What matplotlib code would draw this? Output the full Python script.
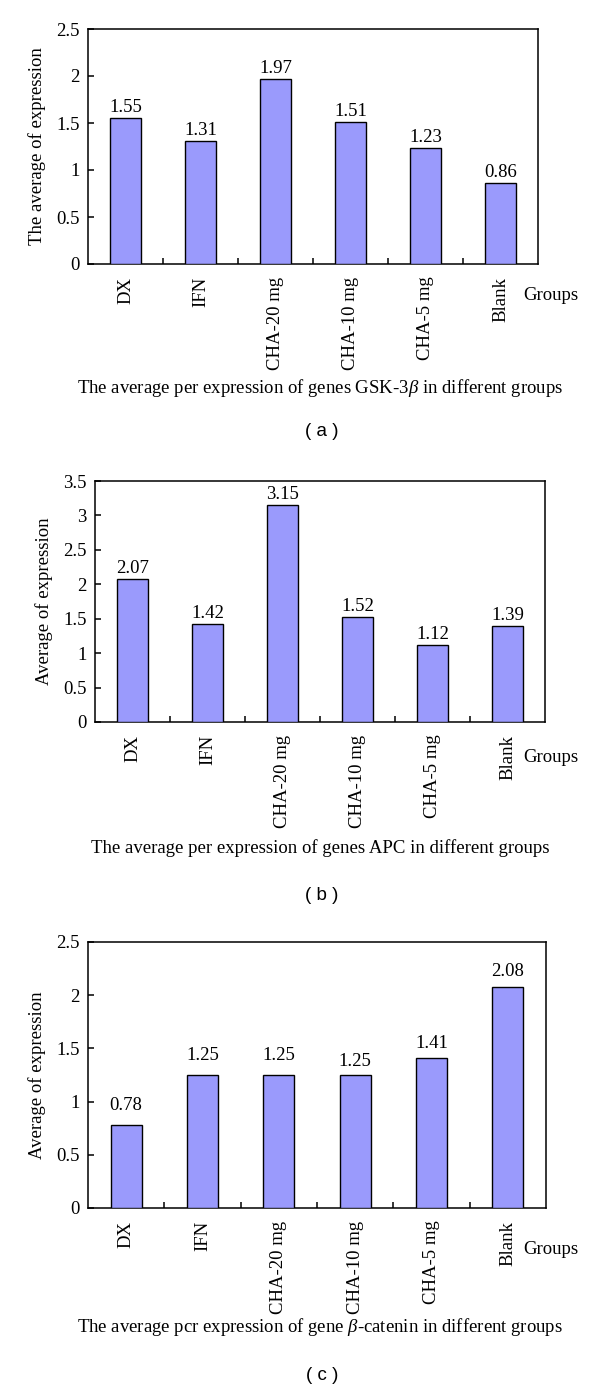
import matplotlib
matplotlib.use("Agg")
import matplotlib.pyplot as plt
import numpy as np

plt.rcParams['font.family'] = ['Liberation Serif', 'DejaVu Serif']
plt.rcParams['mathtext.fontset'] = 'custom'
plt.rcParams['mathtext.rm'] = 'Liberation Serif'
plt.rcParams['mathtext.it'] = 'Liberation Serif:italic'

categories = ["DX", "IFN", "CHA-20 mg", "CHA-10 mg", "CHA-5 mg", "Blank"]
values_a = [1.55, 1.31, 1.97, 1.51, 1.23, 0.86]
values_b = [2.07, 1.42, 3.15, 1.52, 1.12, 1.39]
values_c = [0.78, 1.25, 1.25, 1.25, 1.41, 2.08]
yticks_a = [0, 0.5, 1, 1.5, 2, 2.5]
yticks_b = [0, 0.5, 1, 1.5, 2, 2.5, 3, 3.5]
yticks_c = [0, 0.5, 1, 1.5, 2, 2.5]
ylabel_a = "The average of expression"
ylabel_b = "Average of expression"
ylabel_c = "Average of expression"
title_a = r"The average per expression of genes GSK-3$\it{\beta}$ in different groups"
title_b = "The average per expression of genes APC in different groups"
title_c = r"The average pcr expression of gene $\it{\beta}$-catenin in different groups"
tags = ["( a )", "( b )", "( c )"]

W, H = 600, 1392
fig = plt.figure(figsize=(W / 100, H / 100), dpi=100)

BAR = '#9a9afc'
FS = 13.5

def px_axes(left, right, top, bottom):
    return fig.add_axes([left / W, 1 - bottom / H, (right - left) / W, (bottom - top) / H])

def panel(box, values, yticks, ylabel, title, tag, title_y, tag_y, groups_y, label_pad_px):
    ax = px_axes(*box)
    x = np.arange(len(categories))
    ax.bar(x, values, width=0.41, color=BAR, edgecolor='black', linewidth=1.0, zorder=3)
    ax.set_xlim(-0.5, len(categories) - 0.5)
    ax.set_ylim(yticks[0], yticks[-1])
    ax.set_yticks(yticks)
    ax.set_yticklabels([f"{t:g}" for t in yticks], fontsize=FS)
    ax.set_xticks(x)
    ax.set_xticklabels(categories, rotation=90, fontsize=FS, va='top')
    ax.tick_params(axis='x', length=0, pad=9)
    ax.set_xticks(np.arange(0.5, len(categories) - 0.5, 1.0), minor=True)
    ax.tick_params(axis='x', which='minor', direction='in', length=4, width=1.1)
    ax.tick_params(axis='y', direction='in', length=4, width=1.1, pad=6)
    for s in ax.spines.values():
        s.set_linewidth(1.1)
    ax.set_ylabel(ylabel, fontsize=FS, labelpad=7)
    for i, v in enumerate(values):
        ax.annotate(f"{v:.2f}", (x[i], v), xytext=(0, label_pad_px[i] * 0.72),
                    textcoords='offset points', ha='center', va='bottom', fontsize=FS)
    fig.text(551 / W, 1 - groups_y / H, "Groups", ha='center', va='center', fontsize=FS)
    fig.text(320 / W, 1 - title_y / H, title, ha='center', va='center', fontsize=FS)
    fig.text(322 / W, 1 - tag_y / H, tag, ha='center', va='center', fontsize=FS,
             family=['Liberation Sans', 'DejaVu Sans'])
    return ax

panel((88, 538, 29, 264), values_a, yticks_a, ylabel_a, title_a, tags[0],
      388, 432, 296, [2, 2, 2, 2, 2, 2])
panel((95, 545, 481, 722), values_b, yticks_b, ylabel_b, title_b, tags[1],
      848, 895, 758, [2, 2, 2, 2, 2, 2])
panel((88, 546, 942, 1208), values_c, yticks_c, ylabel_c, title_c, tags[2],
      1327, 1375, 1250, [11, 11, 11, 5, 6, 7])

fig.savefig("out.png", dpi=100, facecolor='white')
